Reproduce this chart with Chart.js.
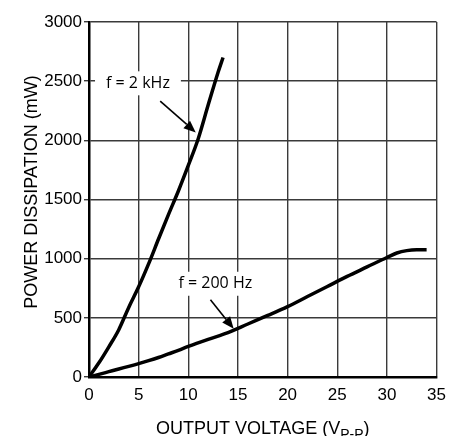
<!DOCTYPE html>
<html lang="en">
<head>
<meta charset="UTF-8">
<title>Power Dissipation vs Output Voltage</title>
<script src="https://cdn.jsdelivr.net/npm/chart.js"></script>
<style>
    body { margin: 0; background: #fff; }
    #wrap { width: 454px; height: 436px; }
</style>
</head>
<body>
<div id="wrap"><canvas id="chart" width="454" height="436"></canvas></div>
<script>
    // f = 2 kHz curve (V p-p, mW)
    const vout2k = [0, 1, 2, 3, 4, 5, 6, 7, 8, 9, 10, 11, 12, 13, 13.5];
    const pd2k = [0, 120, 255, 400, 588, 762, 956, 1166, 1372, 1572, 1788, 2014, 2298, 2575, 2700];

    // f = 200 Hz curve
    const vout200 = [0, 1, 2, 3, 4, 5, 6, 7, 8, 9, 10, 12, 14, 16, 18, 20, 22, 24, 26, 28, 30, 31, 32, 33, 34];
    const pd200 = [0, 22, 45, 68, 90, 113, 138, 165, 195, 225, 258, 318, 375, 448, 520, 595, 680, 765, 850, 930, 1010, 1048, 1068, 1075, 1075];

    const xTicks = [0, 5, 10, 15, 20, 25, 30, 35];
    const yTicks = [0, 500, 1000, 1500, 2000, 2500, 3000];

    // labels with arrows, in data units
    const labels = ['f = 2 kHz', 'f = 200 Hz'];
    const labelAt = [[4.93, 2482], [12.72, 788]];
    const arrowFrom = [[7.17, 2332], [12.23, 652]];
    const arrowTo = [[10.75, 2067], [14.57, 407]];

    const axisFont = "'Liberation Sans', Arial, sans-serif";

    function toPoints(xs, ys) {
        return xs.map((x, i) => ({ x: x, y: ys[i] }));
    }

    const notesPlugin = {
        id: 'notes',
        afterDatasetsDraw(chart) {
            const ctx = chart.ctx;
            const sx = chart.scales.x, sy = chart.scales.y;
            ctx.save();
            ctx.font = "16px 'Open Sans', sans-serif";
            ctx.textAlign = 'center';
            ctx.textBaseline = 'middle';
            labels.forEach((txt, i) => {
                const cx = sx.getPixelForValue(labelAt[i][0]);
                const cy = sy.getPixelForValue(labelAt[i][1]);
                const w = ctx.measureText(txt).width + 22;
                ctx.fillStyle = '#fff';
                ctx.fillRect(cx - w / 2, cy - 12, w, 24);
                ctx.fillStyle = '#000';
                ctx.fillText(txt, cx, cy);

                const x1 = sx.getPixelForValue(arrowFrom[i][0]);
                const y1 = sy.getPixelForValue(arrowFrom[i][1]);
                const x2 = sx.getPixelForValue(arrowTo[i][0]);
                const y2 = sy.getPixelForValue(arrowTo[i][1]);
                const a = Math.atan2(y2 - y1, x2 - x1);
                const hl = 12, hw = 5;
                ctx.strokeStyle = '#000';
                ctx.lineWidth = 1.6;
                ctx.beginPath();
                ctx.moveTo(x1, y1);
                ctx.lineTo(x2 - hl * Math.cos(a), y2 - hl * Math.sin(a));
                ctx.stroke();
                ctx.beginPath();
                ctx.moveTo(x2, y2);
                ctx.lineTo(x2 - hl * Math.cos(a) + hw * Math.sin(a), y2 - hl * Math.sin(a) - hw * Math.cos(a));
                ctx.lineTo(x2 - hl * Math.cos(a) - hw * Math.sin(a), y2 - hl * Math.sin(a) + hw * Math.cos(a));
                ctx.closePath();
                ctx.fillStyle = '#000';
                ctx.fill();
            });
            ctx.restore();
        },
        afterDraw(chart) {
            const ctx = chart.ctx;
            ctx.save();
            ctx.fillStyle = '#000';

            // y axis title, a little above the plot centre as in the original
            ctx.font = '18px ' + axisFont;
            ctx.textAlign = 'center';
            ctx.textBaseline = 'middle';
            ctx.translate(32, 192);
            ctx.rotate(-Math.PI / 2);
            ctx.fillText('POWER DISSIPATION (mW)', 0, 0);
            ctx.setTransform(1, 0, 0, 1, 0, 0);

            // x axis title with subscript
            const main = 'OUTPUT VOLTAGE (V', sub = 'P-P', end = ')';
            ctx.textAlign = 'left';
            ctx.textBaseline = 'alphabetic';
            ctx.font = '18px ' + axisFont;
            const wMain = ctx.measureText(main).width;
            const wEnd = ctx.measureText(end).width;
            ctx.font = '14px ' + axisFont;
            const wSub = ctx.measureText(sub).width;
            let tx = (chart.chartArea.left + chart.chartArea.right) / 2 - (wMain + wSub + wEnd) / 2;
            const base = 434;
            ctx.font = '18px ' + axisFont;
            ctx.fillText(main, tx, base);
            tx += wMain;
            ctx.font = '14px ' + axisFont;
            ctx.fillText(sub, tx, base + 5);
            tx += wSub;
            ctx.font = '18px ' + axisFont;
            ctx.fillText(end, tx, base);
            ctx.restore();
        }
    };

    new Chart(document.getElementById('chart'), {
        type: 'scatter',
        data: {
            datasets: [
                {
                    label: 'f = 2 kHz',
                    data: toPoints(vout2k, pd2k),
                    showLine: true,
                    borderColor: '#000',
                    borderWidth: 3.5,
                    pointRadius: 0,
                    cubicInterpolationMode: 'monotone'
                },
                {
                    label: 'f = 200 Hz',
                    data: toPoints(vout200, pd200),
                    showLine: true,
                    borderColor: '#000',
                    borderWidth: 3.5,
                    pointRadius: 0,
                    cubicInterpolationMode: 'monotone'
                }
            ]
        },
        options: {
            responsive: false,
            animation: false,
            layout: { padding: { top: 22, right: 10, left: 0, bottom: 0 } },
            plugins: {
                legend: { display: false },
                tooltip: { enabled: false }
            },
            scales: {
                x: {
                    type: 'linear',
                    min: 0,
                    max: 35,
                    afterFit: s => { s.height = 59; },
                    afterBuildTicks: s => { s.ticks = xTicks.map(v => ({ value: v })); },
                    grid: { color: '#3a3a3a', lineWidth: 1.4, drawTicks: false },
                    border: { color: '#000', width: 2.5 },
                    ticks: { color: '#000', padding: 8, font: { size: 17, family: axisFont }, callback: v => String(v) }
                },
                y: {
                    min: 0,
                    max: 3000,
                    afterFit: s => { s.width = 89; },
                    afterBuildTicks: s => { s.ticks = yTicks.map(v => ({ value: v })); },
                    grid: { color: '#3a3a3a', lineWidth: 1.4, tickLength: 5 },
                    border: { color: '#000', width: 2.5 },
                    ticks: { color: '#000', padding: 2, font: { size: 17, family: axisFont }, callback: v => String(v) }
                }
            }
        },
        plugins: [notesPlugin]
    });
</script>
</body>
</html>
